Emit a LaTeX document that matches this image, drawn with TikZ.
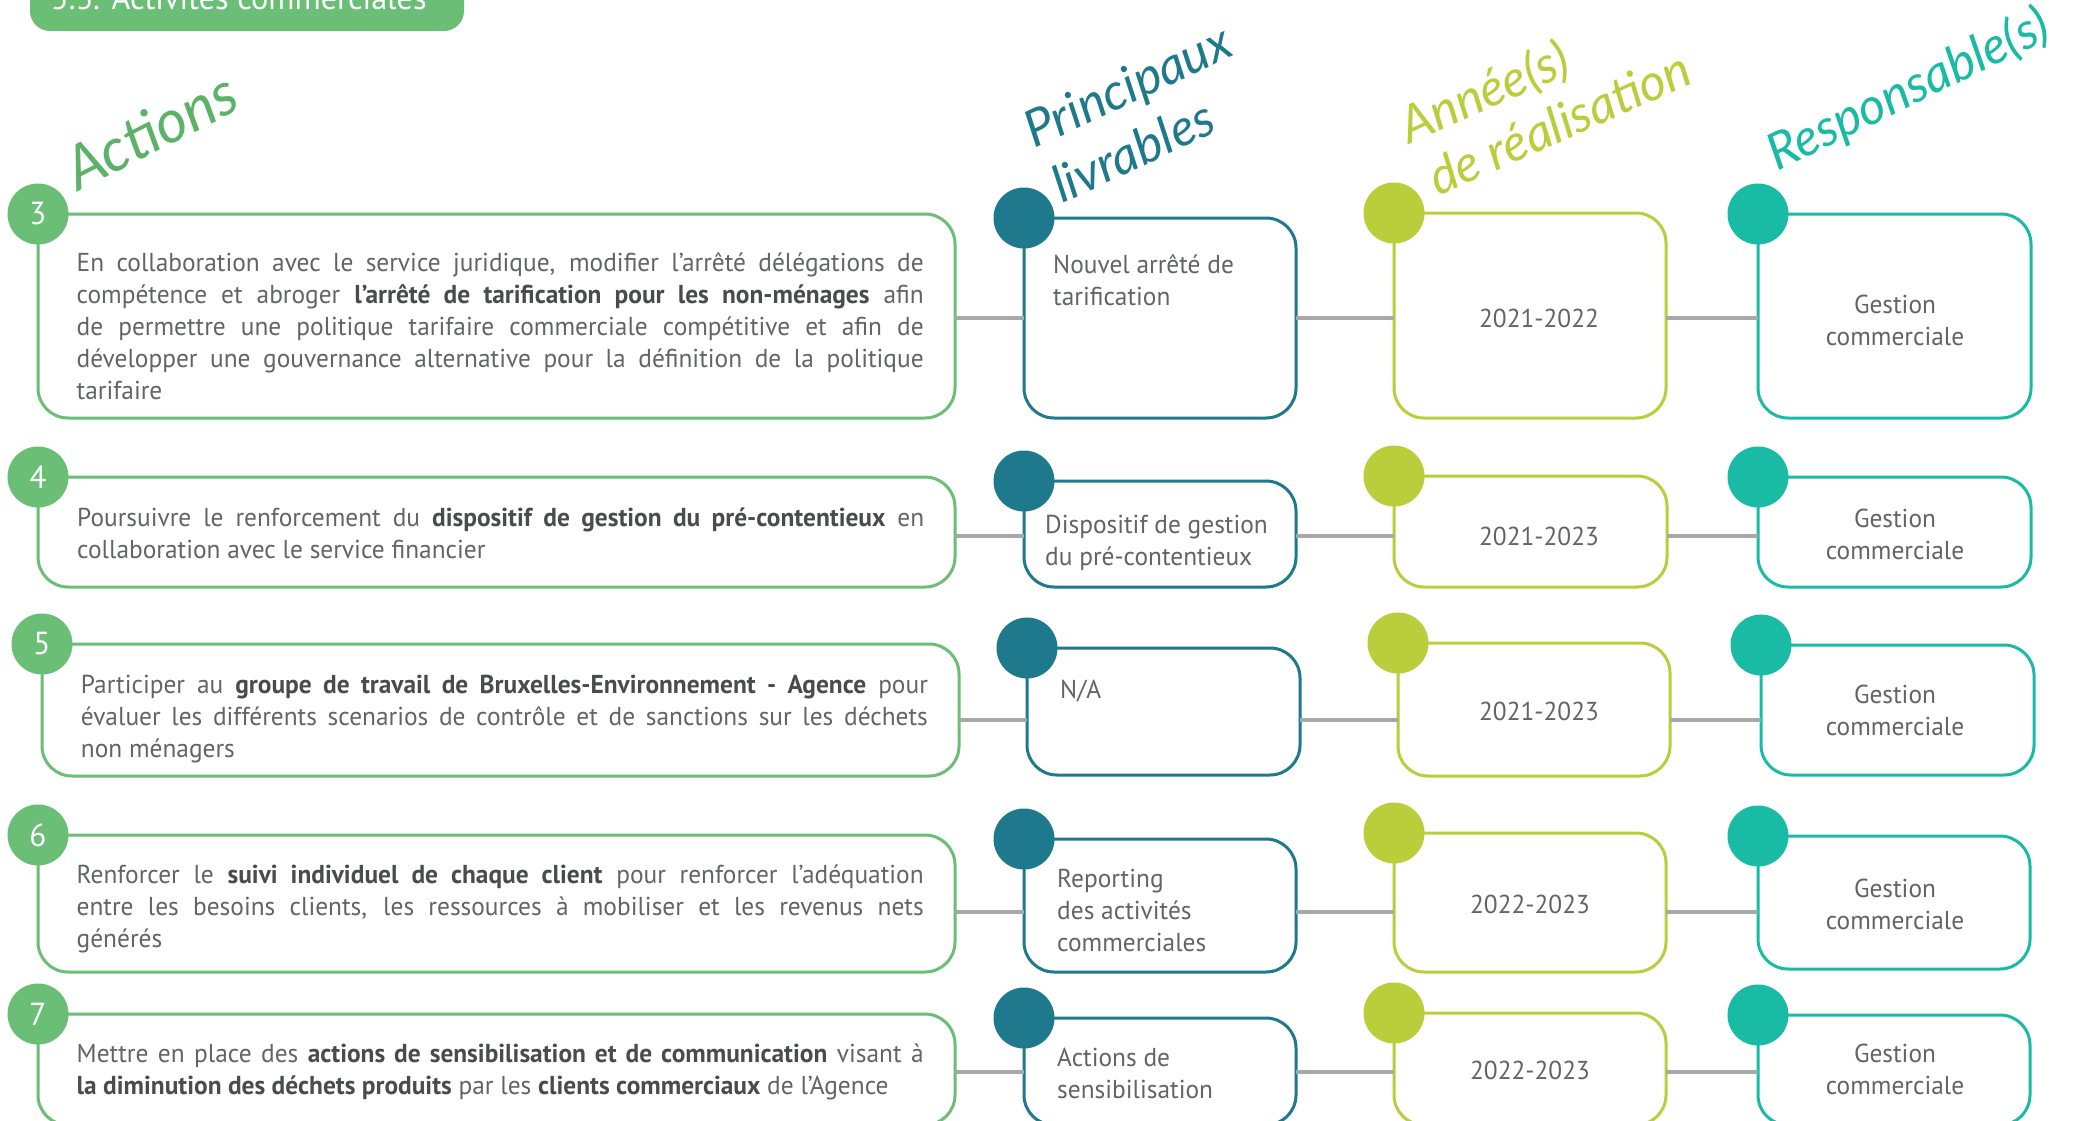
\documentclass[tikz,border=0pt]{standalone}
\usepackage{fontspec}
\setmainfont{PT Sans}[FakeStretch=0.98]
\newfontfamily\handfont{Lato}
\definecolor{cgreen}{HTML}{6ABE76}
\definecolor{cgreenD}{HTML}{5DB26A}
\definecolor{cblue}{HTML}{1E798D}
\definecolor{clime}{HTML}{BACD3A}
\definecolor{cteal}{HTML}{19BBA5}
\definecolor{cgray}{HTML}{A7A8AA}
\definecolor{ctxt}{HTML}{636466}
\definecolor{ctxtb}{HTML}{4A4B4D}
\newcommand\myb[1]{{\bfseries\color{ctxtb}#1}}
\newcommand\parset{\parindent=0pt\tolerance=10000\hyphenpenalty=10000\exhyphenpenalty=10000\rule{0pt}{24bp}}
\newcommand\fl{\rule{0pt}{24bp}}
\tikzset{
  box/.style={draw, line width=3bp, rounded corners=30bp, inner sep=0pt, outer sep=0pt, anchor=north west},
  dot/.style={circle, minimum size=61bp, inner sep=0pt, text=white, font=\fontsize{32}{32}\selectfont},
  conn/.style={draw=cgray, line width=3.5bp},
  acttext/.style={font=\fontsize{26}{32.2}\selectfont, text=ctxt, text width=847bp, align=justify, inner sep=0pt, anchor=north west},
  deltext/.style={font=\fontsize{26}{32.5}\selectfont, text=ctxt, align=left, inner sep=0pt, anchor=north west},
  yeartext/.style={font=\fontsize{26}{32}\selectfont, text=ctxt, inner sep=0pt, anchor=base},
  resptext/.style={font=\fontsize{26}{32}\selectfont, text=ctxt, align=center, inner sep=0pt, anchor=north},
  hd/.style={font=\fontsize{51}{56}\selectfont\handfont\itshape, inner sep=0pt, anchor=base west},
}
\begin{document}
\begin{tikzpicture}[x=1bp, y=-1bp]
\useasboundingbox (0,0) rectangle (2080,1120);
\fill[white] (0,0) rectangle (2080,1120);
\clip (0,0) rectangle (2080,1120);

% title tab
\node[fill=cgreen, rounded corners=20bp, inner sep=0pt, outer sep=0pt, anchor=north west, minimum width=434bp, minimum height=71bp] (tab) at (30,-40) {};
\node[font=\fontsize{33}{33}\selectfont, text=white, inner sep=0pt, anchor=base west] (title) at (51,9) {5.3. Activités commerciales};

% headings
\node[hd, text=cgreenD, rotate=27, font=\fontsize{60}{60}\selectfont\handfont\itshape] (hA) at (78,192) {Actions};
\node[hd, text=cblue, rotate=25] (hP1) at (1034,149) {Principaux};
\node[hd, text=cblue, rotate=25] (hP2) at (1062,204) {livrables};
\node[hd, text=clime, rotate=24] (hY1) at (1409,145) {Année(s)};
\node[hd, text=clime, rotate=24] (hY2) at (1438,197) {de réalisation};
\node[hd, text=cteal, rotate=26] (hR) at (1777,172) {Responsable(s)};

% row coordinates for connectors
\coordinate (r1) at (0,318);
\coordinate (r2) at (0,536);
\coordinate (r3) at (0,720);
\coordinate (r4) at (0,912);
\coordinate (r5) at (0,1072);

% ---- boxes
\node[box, draw=cgreen, minimum width=917bp, minimum height=204bp] (a1) at (38,214) {};
\node[box, draw=cblue, minimum width=272bp, minimum height=200bp] (d1) at (1024,218) {};
\node[box, draw=clime, minimum width=272bp, minimum height=205bp] (y1) at (1394,213) {};
\node[box, draw=cteal, minimum width=273bp, minimum height=204bp] (p1) at (1758,214) {};

\node[box, draw=cgreen, minimum width=917bp, minimum height=110bp] (a2) at (38,477) {};
\node[box, draw=cblue, minimum width=272bp, minimum height=106bp] (d2) at (1024,481) {};
\node[box, draw=clime, minimum width=273bp, minimum height=111bp] (y2) at (1394,476) {};
\node[box, draw=cteal, minimum width=273bp, minimum height=110bp] (p2) at (1758,477) {};

\node[box, draw=cgreen, minimum width=917bp, minimum height=132bp] (a3) at (42,644) {};
\node[box, draw=cblue, minimum width=273bp, minimum height=127bp] (d3) at (1027,648) {};
\node[box, draw=clime, minimum width=272bp, minimum height=133bp] (y3) at (1398,643) {};
\node[box, draw=cteal, minimum width=273bp, minimum height=130bp] (p3) at (1761,645) {};

\node[box, draw=cgreen, minimum width=917bp, minimum height=137bp] (a4) at (38,835) {};
\node[box, draw=cblue, minimum width=272bp, minimum height=133bp] (d4) at (1024,839) {};
\node[box, draw=clime, minimum width=272bp, minimum height=139bp] (y4) at (1394,833) {};
\node[box, draw=cteal, minimum width=272bp, minimum height=133bp] (p4) at (1758,836) {};

\node[box, draw=cgreen, minimum width=917bp, minimum height=111bp] (a5) at (38,1014) {};
\node[box, draw=cblue, minimum width=272bp, minimum height=107bp] (d5) at (1024,1018) {};
\node[box, draw=clime, minimum width=272bp, minimum height=112bp] (y5) at (1394,1013) {};
\node[box, draw=cteal, minimum width=272bp, minimum height=110bp] (p5) at (1758,1015) {};

% ---- connectors
\foreach \i in {1,...,5}{
  \draw[conn] (a\i.east |- r\i) -- (d\i.west |- r\i);
  \draw[conn] (d\i.east |- r\i) -- (y\i.west |- r\i);
  \draw[conn] (y\i.east |- r\i) -- (p\i.west |- r\i);
}

% ---- circles
\foreach \i/\n in {1/3,2/4,3/5,4/6,5/7}{
  \node[dot, fill=cgreen] (n\i) at (a\i.north west) {\n};
  \node[dot, fill=cblue] (nd\i) at (d\i.north west) {};
  \node[dot, fill=clime] (ny\i) at (y\i.north west) {};
  \node[dot, fill=cteal] (np\i) at (p\i.north west) {};
}

% ---- action texts
\node[acttext] (t1) at (76.5,247) {\parset En collaboration avec le service juridique, modifier l’arrêté délégations de\linebreak compétence et abroger \myb{l’arrêté de tarification pour les non-ménages} afin\linebreak de permettre une politique tarifaire commerciale compétitive et afin de\linebreak développer une gouvernance alternative pour la définition de la politique\linebreak tarifaire};
\node[acttext] (t2) at (77,502) {\parset Poursuivre le renforcement du \myb{dispositif de gestion du pré-contentieux} en\linebreak collaboration avec le service financier};
\node[acttext] (t3) at (80.7,669) {\parset Participer au \myb{groupe de travail de Bruxelles-Environnement - Agence} pour\linebreak évaluer les différents scenarios de contrôle et de sanctions sur les déchets\linebreak non ménagers};
\node[acttext] (t4) at (76.5,859) {\parset Renforcer le \myb{suivi individuel de chaque client} pour renforcer l’adéquation\linebreak entre les besoins clients, les ressources à mobiliser et les revenus nets\linebreak générés};
\node[acttext] (t5) at (76.5,1038) {\parset\parfillskip=0pt Mettre en place des \myb{actions de sensibilisation et de communication} visant à\linebreak \myb{la diminution des déchets produits} par les \myb{clients commerciaux} de l’Agence};

% ---- deliverables
\node[deltext] (l1) at (1053,249) {\fl Nouvel arrêté de\\tarification};
\node[deltext] (l2) at (1045,509) {\fl Dispositif de gestion\\du pré-contentieux};
\node[deltext] (l3) at (1060,674) {\fl N/A};
\node[deltext] (l4) at (1057,863) {\fl Reporting\\des activités\\commerciales};
\node[deltext] (l5) at (1057,1042) {\fl Actions de\\sensibilisation};

% ---- years
\node[yeartext] (yt1) at (1539,327) {2021-2022};
\node[yeartext] (yt2) at (1539,545) {2021-2023};
\node[yeartext] (yt3) at (1539,720) {2021-2023};
\node[yeartext] (yt4) at (1530,913) {2022-2023};
\node[yeartext] (yt5) at (1530,1079) {2022-2023};

% ---- responsables
\node[resptext] (pt1) at (1895,289) {\fl Gestion\\commerciale};
\node[resptext] (pt2) at (1895,503) {\fl Gestion\\commerciale};
\node[resptext] (pt3) at (1895,679) {\fl Gestion\\commerciale};
\node[resptext] (pt4) at (1895,873) {\fl Gestion\\commerciale};
\node[resptext] (pt5) at (1895,1038) {\fl Gestion\\commerciale};
\end{tikzpicture}
\end{document}
